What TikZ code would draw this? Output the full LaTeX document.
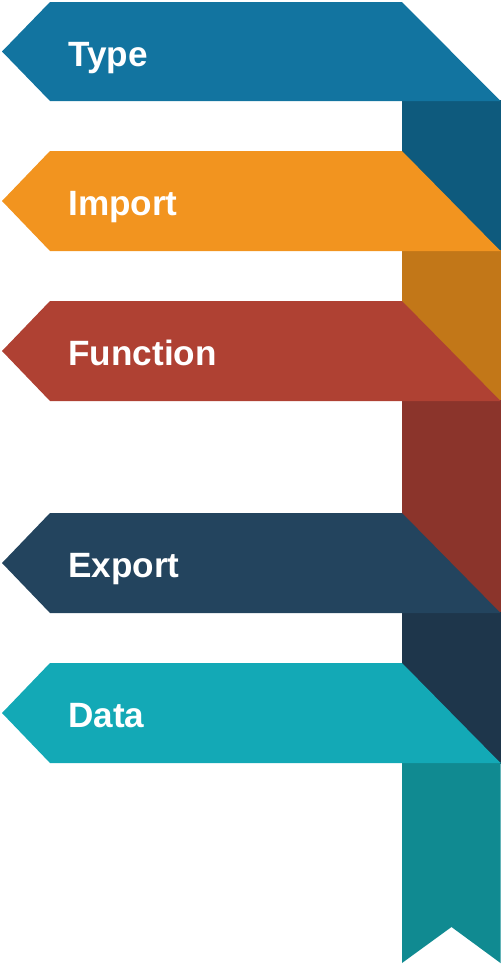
\documentclass[tikz,border=0pt]{standalone}
\usepackage{fontspec}
\setmainfont{Liberation Sans}
\definecolor{typeblue}{HTML}{1274A0}
\definecolor{typedark}{HTML}{0E5A7D}
\definecolor{importorange}{HTML}{F2941F}
\definecolor{importdark}{HTML}{C27718}
\definecolor{funcred}{HTML}{AF4133}
\definecolor{funcdark}{HTML}{8B342B}
\definecolor{exportnavy}{HTML}{23445E}
\definecolor{exportdark}{HTML}{1E364B}
\definecolor{datateal}{HTML}{13A9B6}
\definecolor{datadark}{HTML}{108A91}
\begin{document}
\begin{tikzpicture}[x=0.02cm, y=-0.02cm,
  lbl/.style={anchor=base west, text=white, inner sep=0pt,
    font=\fontsize{20}{24}\selectfont\bfseries}]
 \useasboundingbox (0,0) rectangle (503,968);
 % folded strip behind the banners
 \fill[typedark] (402,100) rectangle (500.5,252);
 \fill[importdark] (402,250) rectangle (500.5,402);
 \fill[funcdark] (402,400) rectangle (500.5,614);
 \fill[exportdark] (402,612) rectangle (500.5,764);
 \fill[datadark] (402,762) -- (500.5,762) -- (500.5,963) -- (451.5,927) -- (402,963) -- cycle;
 % banners
 \fill[typeblue] (50,2) -- (402,2) -- (500.5,101) -- (50,101) -- (2,51.5) -- cycle;
 \node[lbl] (type) at (68,66) {Type};
 \fill[importorange] (50,151) -- (402,151) -- (500.5,251) -- (50,251) -- (2,201) -- cycle;
 \node[lbl] (import) at (68,215) {Import};
 \fill[funcred] (50,301) -- (402,301) -- (500.5,401) -- (50,401) -- (2,351) -- cycle;
 \node[lbl] (function) at (68,365) {Function};
 \fill[exportnavy] (50,513) -- (402,513) -- (500.5,613) -- (50,613) -- (2,563) -- cycle;
 \node[lbl] (export) at (68,577) {Export};
 \fill[datateal] (50,663) -- (402,663) -- (500.5,763) -- (50,763) -- (2,713) -- cycle;
 \node[lbl] (data) at (68,727) {Data};
\end{tikzpicture}
\end{document}
